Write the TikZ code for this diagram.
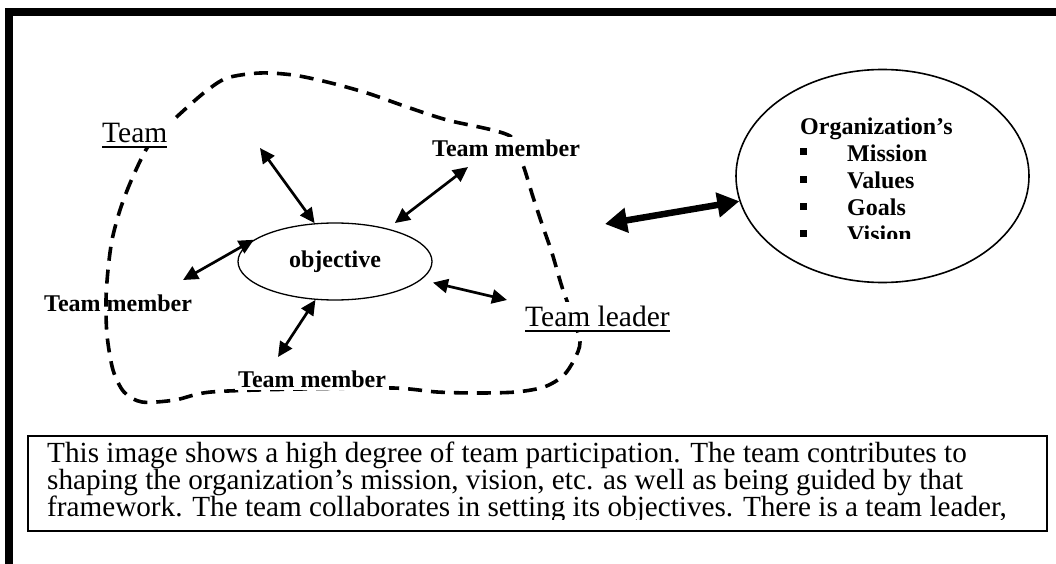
\documentclass[tikz,border=0pt]{standalone}
\usepackage{fontspec}
\setmainfont{Liberation Serif}
\usetikzlibrary{arrows.meta,shapes.geometric}
\begin{document}
\begin{tikzpicture}[x=1pt,y=-1pt,
  plainlbl/.style={font=\fontsize{29.5}{29.5}\selectfont, inner xsep=4pt, inner ysep=4pt, fill=white, anchor=base west},
  boldlbl/.style={font=\fontsize{24}{24}\selectfont\bfseries, inner sep=3pt, anchor=base west},
  orgtxt/.style={font=\fontsize{24}{24}\selectfont\bfseries, inner sep=0pt, anchor=base west},
  bodytxt/.style={font=\fontsize{29.2}{29.2}\selectfont, inner sep=0pt, anchor=base west},
  link/.style={line width=2.7pt, {Triangle[length=15pt,width=14pt]}-{Triangle[length=15pt,width=14pt]}},
  biglink/.style={line width=6.5pt, {Triangle[length=22pt,width=24pt]}-{Triangle[length=22pt,width=24pt]}},
  boundary/.style={line width=3.6pt, dash pattern=on 14pt off 9pt},
  bulletsq/.style={fill=black, minimum size=7pt, inner sep=0pt},
]
\useasboundingbox (0,0) rectangle (1056,564);

% page frame (left and top edges only)
\draw[line width=8pt, line join=miter] (9,570) -- (9,12.5) -- (1062,12.5);

% dashed team boundary
\draw[boundary] plot[smooth cycle, tension=0.5] coordinates {
  (147,148) (131,181) (120,210) (112,240) (108,270) (106,300) (107,335)
  (113,370) (124,392) (142,402) (175,400) (211,392) (300,389) (393,388)
  (437,392) (477,393) (516,392) (544,387) (563,376) (574,360) (580,342)
  (572,315) (562,287) (552,253) (543,227) (533,197) (523,165) (510,136)
  (447,120) (407,107) (367,93) (327,82) (293,75) (260,73) (227,78)
  (205,92) (182,112) (163,130)};

% central objective
\node[draw, ellipse, line width=1.3pt, minimum width=194pt, minimum height=77pt,
      inner sep=0pt, font=\fontsize{24}{24}\selectfont\bfseries] (obj) at (335,261.5) {objective};

% labels
\node[plainlbl] (team) at (98,143) {Team};
\draw[line width=2pt] ([xshift=4pt,yshift=-4.5pt]team.base west) -- ([xshift=-4pt,yshift=-4.5pt]team.base east);

\node[boldlbl, fill=white] (mtop) at (429,157) {Team member};
\node[boldlbl] (mleft) at (41,311) {Team member};
\node[boldlbl, fill=white] (mbot) at (235,387) {Team member};

\node[plainlbl] (lead) at (521,326) {Team leader};
\draw[line width=2pt] ([xshift=4pt,yshift=-5pt]lead.base west) -- ([xshift=-4pt,yshift=-5pt]lead.base east);

% free ends of the arrows
\coordinate (e1) at (260,148);
\coordinate (e2) at (468,167);
\coordinate (e3) at (183,280);
\coordinate (e4) at (507,300);
\coordinate (e5) at (278,357);
\coordinate (e6) at (605,224);

\draw[link] (e1) -- (obj.118);
\draw[link, shorten >=9pt] (e2) -- (obj.32);
\draw[link] (e3) -- (obj.165);
\draw[link, shorten >=12pt] (e4) -- (obj.-12);
\draw[link] (e5) -- (obj.-117);

% organization ellipse
\node[draw, ellipse, line width=1.6pt, minimum width=293pt, minimum height=213pt, inner sep=0pt] (org) at (882.5,176) {};
\draw[biglink] (e6) -- (org.190.6);

\node[orgtxt] (otitle) at (800,135) {Organization’s};
\node[bulletsq] (b1) at (803.5,152) {};
\node[bulletsq] (b2) at (803.5,179) {};
\node[bulletsq] (b3) at (803.5,206) {};
\node[bulletsq] (b4) at (803.5,233) {};
\node[orgtxt] (i1) at (847,161) {Mission};
\node[orgtxt] (i2) at (847,188) {Values};
\node[orgtxt] (i3) at (847,215) {Goals};
\begin{scope}
  \clip (780,215) rectangle (1000,238);
  \node[orgtxt] (i4) at (847,242) {Vision};
\end{scope}

% caption box
\node[draw, line width=1.5pt, minimum width=1019pt, minimum height=95pt, inner sep=0pt, anchor=north west] (cap) at (27,435) {};
\begin{scope}
  \clip (28,436) rectangle (1045,519.5);
  \node[bodytxt] (l1) at (47,462) {This image shows a high degree of team participation. The team contributes to};
  \node[bodytxt] (l2) at (47,489) {shaping the organization’s mission, vision, etc. as well as being guided by that};
  \node[bodytxt] (l3) at (47,516) {framework. The team collaborates in setting its objectives. There is a team leader,};
\end{scope}
\end{tikzpicture}
\end{document}
